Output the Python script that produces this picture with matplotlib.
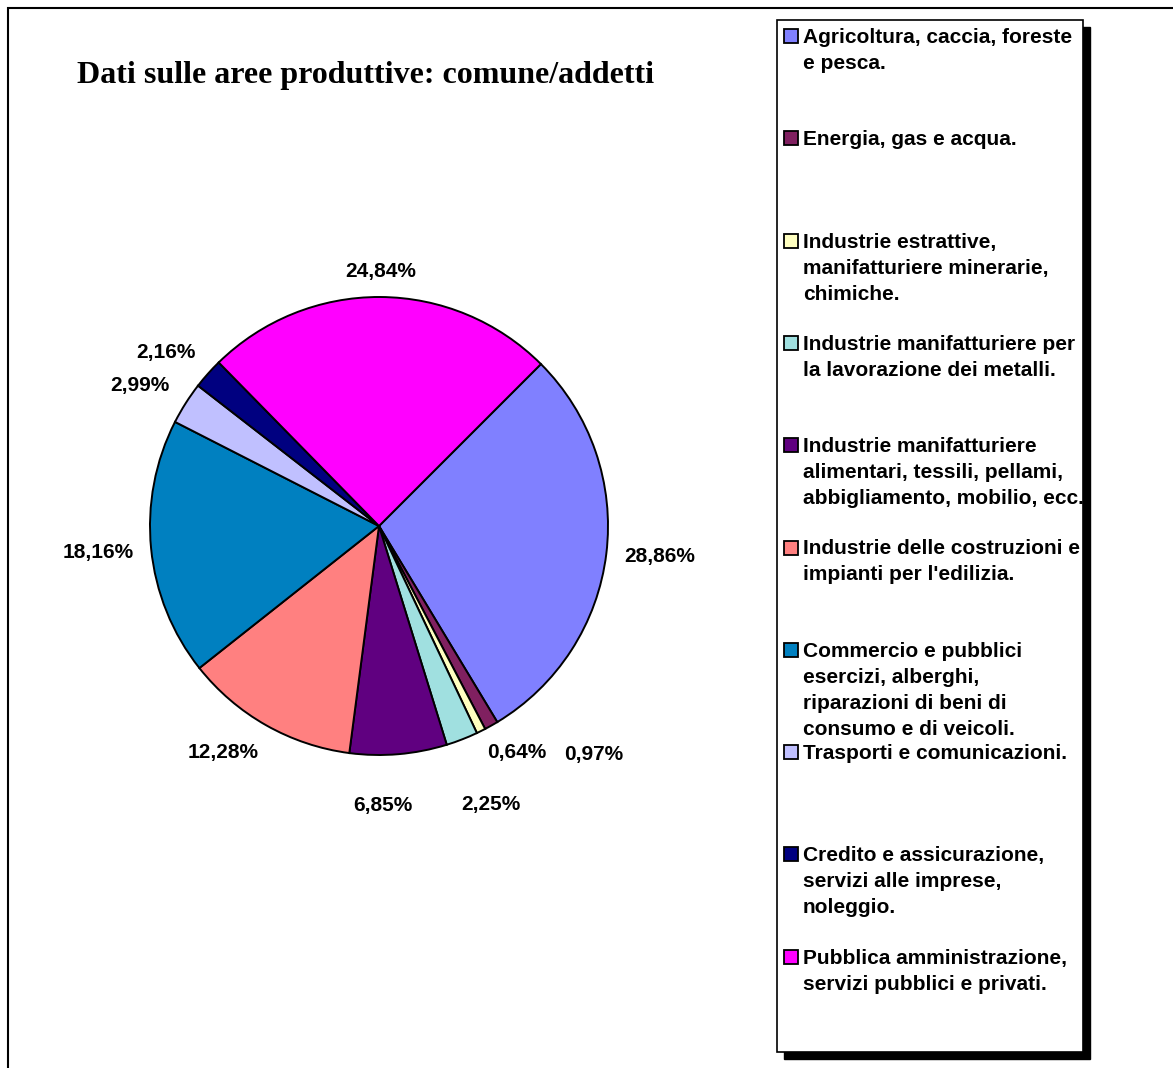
import numpy as np
import matplotlib.pyplot as plt
from matplotlib.patches import Rectangle

categories = [
    'Agricoltura, caccia, foreste\ne pesca.',
    'Energia, gas e acqua.',
    'Industrie estrattive,\nmanifatturiere minerarie,\nchimiche.',
    'Industrie manifatturiere per\nla lavorazione dei metalli.',
    'Industrie manifatturiere\nalimentari, tessili, pellami,\nabbigliamento, mobilio, ecc.',
    'Industrie delle costruzioni e\nimpianti per l\'edilizia.',
    'Commercio e pubblici\nesercizi, alberghi,\nriparazioni di beni di\nconsumo e di veicoli.',
    'Trasporti e comunicazioni.',
    'Credito e assicurazione,\nservizi alle imprese,\nnoleggio.',
    'Pubblica amministrazione,\nservizi pubblici e privati.',
]
values = [28.86, 0.97, 0.64, 2.25, 6.85, 12.28, 18.16, 2.99, 2.16, 24.84]
colors = ['#8080FF', '#802060', '#FFFFC0', '#A0E0E0', '#600080',
          '#FF8080', '#0080C0', '#C0C0FF', '#000080', '#FF00FF']

# label placement tweaks (radius factor, angular nudge in degrees, clockwise)
label_r = [1.235, 1.37, 1.16, 1.31, 1.22, 1.2, 1.23, 1.21, 1.2, 1.11]
label_shift = [-0.7, -13.9, -4.9, -0.7, 4.0, 5.1, 0.3, -2.0, -2.6, 0.1]

W, H = 1173, 1068
fig = plt.figure(figsize=(W / 100, H / 100), dpi=100)

# outer frame (only top/left visible in original)
fig.patches.append(Rectangle((8 / W, -0.1), 1.2, (H - 8) / H + 0.1,
                             transform=fig.transFigure, fill=False,
                             edgecolor='black', linewidth=1.5))

cx, cy, R, S = 379, 526, 229, 330
ax = fig.add_axes([(cx - S) / W, (H - cy - S) / H, 2 * S / W, 2 * S / H])
wedges, _ = ax.pie(values, colors=colors, startangle=45, counterclock=False,
                   radius=1.0, wedgeprops=dict(edgecolor='black', linewidth=1.4))
ax.set_xlim(-S / R, S / R)
ax.set_ylim(-S / R, S / R)
ax.set_aspect('equal')
ax.axis('off')

cum = np.cumsum([0] + values[:-1])
for i, v in enumerate(values):
    mid = 45 + (cum[i] + v / 2) * 3.6 + label_shift[i]  # clockwise from 12 o'clock
    th = np.deg2rad(90 - mid)
    ax.text(label_r[i] * np.cos(th), label_r[i] * np.sin(th),
            f'{v:.2f}%'.replace('.', ','), ha='center', va='center',
            fontsize=15, fontweight='bold', family='Liberation Sans',
            clip_on=False)

fig.text(77 / W, 1 - 76 / H, 'Dati sulle aree produttive: comune/addetti',
         family='Liberation Serif', fontweight='bold', fontsize=23,
         ha='left', va='center')

# legend box with shadow
lx0, ly0, lx1, ly1 = 777, 20, 1083, 1052
sh = 7
fig.patches.append(Rectangle(((lx0 + sh) / W, 1 - (ly1 + sh) / H),
                             (lx1 - lx0) / W, (ly1 - ly0) / H,
                             transform=fig.transFigure, facecolor='black',
                             edgecolor='black', zorder=1))
fig.patches.append(Rectangle((lx0 / W, 1 - ly1 / H), (lx1 - lx0) / W,
                             (ly1 - ly0) / H, transform=fig.transFigure,
                             facecolor='white', edgecolor='black',
                             linewidth=1.2, zorder=2))

for i, (lab, c) in enumerate(zip(categories, colors)):
    base = 43 + i * 102.3
    fig.patches.append(Rectangle((784 / W, 1 - base / H), 14 / W, 14 / H,
                                 transform=fig.transFigure, facecolor=c,
                                 edgecolor='black', linewidth=1.3, zorder=3))
    for j, line in enumerate(lab.split('\n')):
        fig.text(803 / W, 1 - (base + j * 26) / H, line, ha='left',
                 va='baseline', fontsize=15, fontweight='bold',
                 family='Liberation Sans', zorder=4)

fig.savefig('out.png', dpi=100, facecolor='white')
